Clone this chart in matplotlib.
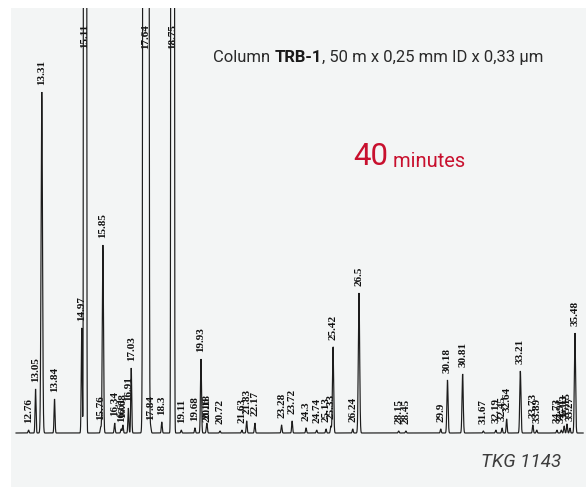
import numpy as np
import matplotlib
matplotlib.use("Agg")
import matplotlib.pyplot as plt

# Peak table: retention time label, peak height (response units above baseline), peak width (sigma, min)
peak_labels = ["12.76", "13.05", "13.31", "13.84", "14.97", "15.11", "15.76", "15.85",
               "16.34", "16.61", "16.68", "16.91", "17.03", "17.64", "17.84", "18.3",
               "18.75", "19.11", "19.68", "19.93", "20.16", "20.18", "20.72", "21.63",
               "21.83", "22.17", "23.28", "23.72", "24.3", "24.74", "25.13", "25.33",
               "25.42", "26.24", "26.5", "28.15", "28.45", "29.9", "30.18", "30.81",
               "31.67", "32.19", "32.45", "32.64", "33.21", "33.73", "33.89", "34.73",
               "34.91", "35.03", "35.15", "35.27", "35.48"]
peak_heights = [3, 44, 341, 34, 105, 100000, 6, 188,
                10, 4, 8, 25, 65, 100000, 6, 11,
                100000, 3, 5, 74, 4, 7, 2, 3,
                12, 10, 8, 12, 5, 3, 4, 7,
                86, 4, 140, 2, 2, 4, 53, 59,
                2, 3, 5, 14, 62, 8, 3, 3,
                3, 7, 9, 5, 100]
peak_sigmas = [0.02, 0.02, 0.03, 0.02, 0.02, 0.022, 0.02, 0.025,
               0.02, 0.02, 0.02, 0.02, 0.02, 0.042, 0.02, 0.02,
               0.025, 0.02, 0.02, 0.022, 0.02, 0.02, 0.02, 0.02,
               0.02, 0.02, 0.02, 0.02, 0.02, 0.02, 0.02, 0.02,
               0.025, 0.02, 0.028, 0.02, 0.02, 0.02, 0.025, 0.025,
               0.02, 0.02, 0.02, 0.02, 0.025, 0.02, 0.02, 0.02,
               0.02, 0.02, 0.02, 0.02, 0.025]

run_start, run_end = 12.24, 35.82          # recorded time window (min)
x_min, x_max = 12.03, 35.94                 # plotted time window (min)
y_min, y_max = -54, 425                     # plotted response window

retention = np.array([float(s) for s in peak_labels])
heights = np.array(peak_heights, dtype=float)
sigmas = np.array(peak_sigmas, dtype=float)

t = np.linspace(run_start, run_end, 60000)
signal = np.zeros_like(t)
for rt, h, s in zip(retention, heights, sigmas):
    signal += h * np.exp(-0.5 * ((t - rt) / s) ** 2)

W, H = 586, 487
fig = plt.figure(figsize=(W / 100, H / 100), dpi=100)
fig.patch.set_facecolor("white")

panel_left, panel_top = 11, 8
ax = fig.add_axes([panel_left / W, 0, 1 - panel_left / W, (H - panel_top) / H])
ax.set_facecolor("#f3f5f5")
ax.set_xlim(x_min, x_max)
ax.set_ylim(y_min, y_max)
for sp in ax.spines.values():
    sp.set_visible(False)
ax.set_xticks([])
ax.set_yticks([])

ax.plot(t, signal, color="#1c1c1c", lw=0.85, zorder=3, solid_joinstyle="miter")

# Retention-time annotations, printed just above each peak (off-scale peaks at the top)
label_font = dict(family=["Liberation Serif", "DejaVu Serif"], weight="bold",
                  size=8, color="#111111", rotation=90, ha="center", zorder=2)
for lab, rt, h in zip(peak_labels, retention, heights):
    if h > y_max:
        ax.text(rt, y_max - 16, lab, va="top", **label_font)
    else:
        ax.text(rt, max(h, 2) + 7, lab, va="bottom", **label_font)

sans = ["Roboto", "DejaVu Sans"]

# Column description line with bold column name
t1 = fig.text(213 / W, 1 - 62 / H, "Column ", family=sans, size=12,
              color="#2a2a2a", va="baseline")
t2 = ax.annotate("TRB-1", xy=(1, 0), xycoords=t1, va="bottom", ha="left",
                 family=sans, size=12, weight="bold", color="#1a1a1a")
ax.annotate(", 50 m x 0,25 mm ID x 0,33 µm", xy=(1, 0), xycoords=t2,
            va="bottom", ha="left", family=sans, size=12, color="#2a2a2a")

red = "#c8102e"
r1 = fig.text(353 / W, 1 - 165 / H, "40", family=sans, size=22.5, color=red,
              va="baseline")
ax.annotate(" minutes", xy=(1, 0), xycoords=r1, va="bottom", ha="left",
            family=sans, size=14.5, color=red)

fig.text(561 / W, 1 - 467 / H, "TKG 1143", family=sans, size=13.5,
         style="italic", color="#3c3c3c", ha="right", va="baseline")

fig.savefig("out.png", dpi=100, facecolor="white")
